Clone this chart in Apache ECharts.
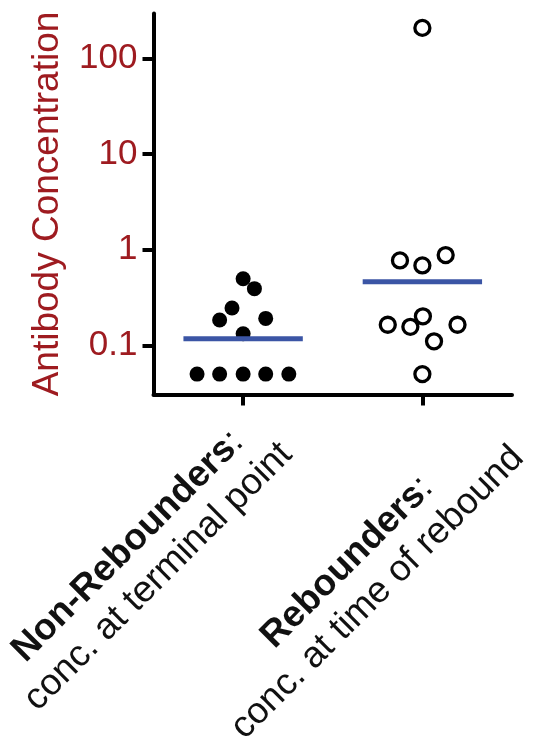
<!DOCTYPE html>
<html>
<head>
<meta charset="utf-8">
<script src="https://cdn.jsdelivr.net/npm/echarts@6/dist/echarts.min.js"></script>
<style>
  html, body { margin: 0; padding: 0; background: #fff; }
  #chart { width: 538px; height: 736px; }
</style>
</head>
<body>
<div id="chart"></div>
<script>
// ---- data ----
const categories = ['Non-Rebounders', 'Rebounders'];
const categorySubtitles = ['conc. at terminal point', 'conc. at time of rebound'];
const categoryX = [1, 2];
const yTickValues = [0.1, 1, 10, 100];
// Non-Rebounders (filled)
const nonRebJitter = [0.0, 0.063, -0.062, -0.131, 0.126, 0.0, -0.257, -0.131, 0.0, 0.126, 0.255];
const nonRebValues = [0.497, 0.391, 0.245, 0.184, 0.191, 0.132, 0.05, 0.05, 0.05, 0.05, 0.05];
// Rebounders (open)
const rebJitter = [0.0, -0.125, 0.0, 0.13, -0.193, -0.067, 0.003, 0.196, 0.065, 0.0];
const rebValues = [208, 0.771, 0.684, 0.878, 0.164, 0.156, 0.201, 0.164, 0.110, 0.05];
// medians
const medians = [0.117, 0.462];

const RED = '#9e1b20';
const BLUE = '#3b55a5';
const FONT = "'Liberation Sans', Arial, Helvetica, sans-serif";

const chart = echarts.init(document.getElementById('chart'), null, { renderer: 'canvas' });

const nrData = nonRebValues.map((v, i) => [categoryX[0] + nonRebJitter[i], v]);
const rData = rebValues.map((v, i) => [categoryX[1] + rebJitter[i], v]);
const medianHalf = 0.333;

const option = {
  backgroundColor: '#fff',
  animation: false,
  grid: { left: 153.5, right: 26, top: 13.5, bottom: 341.5, containLabel: false },
  xAxis: {
    type: 'value',
    min: 0.5,
    max: 2.5,
    splitLine: { show: false },
    axisLine: { show: true, lineStyle: { color: '#000', width: 4 } },
    axisTick: { show: true, customValues: categoryX, length: 11, lineStyle: { color: '#000', width: 4 } },
    axisLabel: { show: false }
  },
  yAxis: {
    type: 'log',
    logBase: 10,
    min: 0.0306,
    max: 294,
    name: 'Antibody Concentration',
    nameLocation: 'middle',
    nameRotate: 90,
    nameGap: 87,
    nameTextStyle: { color: RED, fontSize: 37, fontFamily: FONT },
    splitLine: { show: false },
    minorTick: { show: false },
    axisLine: { show: true, lineStyle: { color: '#000', width: 4 } },
    axisTick: { show: true, customValues: yTickValues, length: 11, lineStyle: { color: '#000', width: 4 } },
    axisLabel: {
      customValues: yTickValues,
      color: RED,
      fontSize: 35,
      fontFamily: FONT,
      margin: 16,
      formatter: v => String(v)
    }
  },
  series: [
    {
      name: 'Non-Rebounders',
      type: 'scatter',
      data: nrData,
      symbol: 'circle',
      symbolSize: 15,
      itemStyle: { color: '#000', opacity: 1 },
      z: 2
    },
    {
      name: 'Rebounders',
      type: 'scatter',
      data: rData,
      symbol: 'circle',
      symbolSize: 15,
      itemStyle: { color: '#fff', borderColor: '#000', borderWidth: 3.3, opacity: 1 },
      z: 2
    },
    {
      type: 'line',
      data: [[categoryX[0] - medianHalf, medians[0]], [categoryX[0] + medianHalf, medians[0]]],
      symbol: 'none',
      lineStyle: { color: BLUE, width: 5 },
      z: 3
    },
    {
      type: 'line',
      data: [[categoryX[1] - medianHalf, medians[1]], [categoryX[1] + medianHalf, medians[1]]],
      symbol: 'none',
      lineStyle: { color: BLUE, width: 5 },
      z: 3
    }
  ]
};
chart.setOption(option);

// rotated category labels, anchored to the axis ticks
const labelOffsets = [[-100, 167], [-60, 183]];
const LABEL_SIZE = 37;
const graphics = categories.map((c, i) => {
  const p = chart.convertToPixel({ gridIndex: 0 }, [categoryX[i], 0.0306]);
  return {
    type: 'text',
    x: p[0] + labelOffsets[i][0],
    y: p[1] + labelOffsets[i][1],
    rotation: Math.PI / 4,
    style: {
      text: '{b|' + c + '}{r|:}\n{r|' + categorySubtitles[i] + '}',
      align: 'center',
      verticalAlign: 'middle',
      fill: '#111',
      fontFamily: FONT,
      fontSize: LABEL_SIZE,
      rich: {
        b: { fontWeight: 'bold', fontSize: LABEL_SIZE, fontFamily: FONT, align: 'center', lineHeight: 43, fill: '#111' },
        r: { fontWeight: 'normal', fontSize: LABEL_SIZE, fontFamily: FONT, align: 'center', lineHeight: 43, fill: '#111' }
      }
    }
  };
});
chart.setOption({ graphic: graphics });
</script>
</body>
</html>
